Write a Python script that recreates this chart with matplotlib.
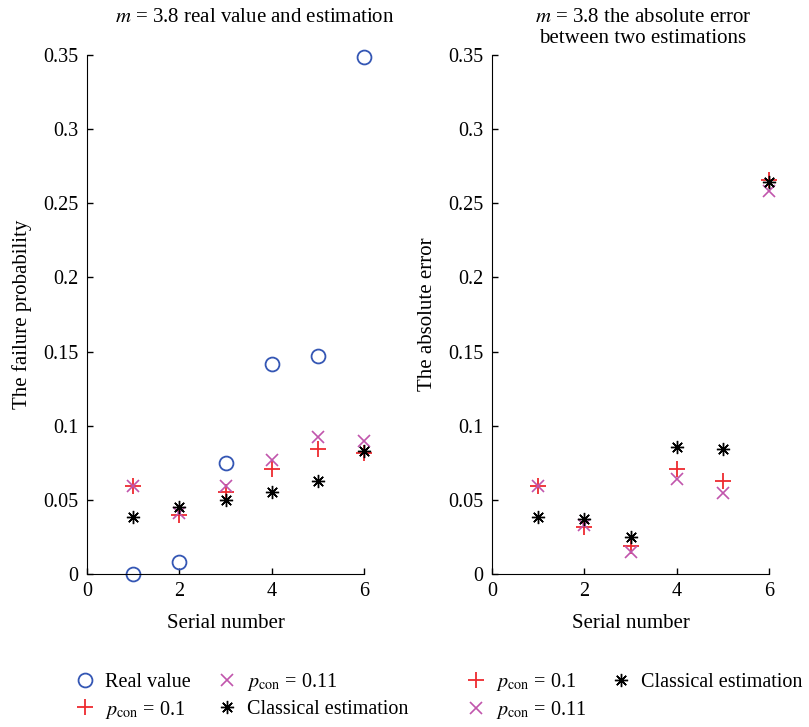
import matplotlib
matplotlib.use("Agg")
import matplotlib.pyplot as plt

plt.rcParams['font.family'] = ['Liberation Serif', 'DejaVu Serif']
plt.rcParams['mathtext.fontset'] = 'stix'

serial = [1, 2, 3, 4, 5, 6]
real_value = [0.0, 0.0079, 0.0748, 0.1416, 0.147, 0.3485]
est_p010 = [0.0596, 0.0398, 0.0555, 0.0706, 0.0843, 0.0818]
est_p011 = [0.0596, 0.0413, 0.0596, 0.0769, 0.0921, 0.0894]
est_classical = [0.0384, 0.0454, 0.0499, 0.0555, 0.0627, 0.0831]

err_p010 = [0.0594, 0.0314, 0.019, 0.0706, 0.0628, 0.2656]
err_p011 = [0.0594, 0.033, 0.015, 0.0643, 0.0545, 0.2584]
err_classical = [0.0386, 0.0374, 0.0247, 0.0857, 0.0841, 0.2645]

xticks = [0, 2, 4, 6]
yticks = [0, 0.05, 0.1, 0.15, 0.2, 0.25, 0.3, 0.35]
ytick_labels = ['0', '0.05', '0.1', '0.15', '0.2', '0.25', '0.3', '0.35']

c_blue = '#3456B4'
c_red = '#EE2A2F'
c_mag = '#C155AC'
c_black = '#000000'
ast = (8, 2, 0)

fig = plt.figure(figsize=(8.09, 7.27), dpi=100)
ax1 = fig.add_axes([87/809, 1-574/727, 277/809, 519/727])
ax2 = fig.add_axes([492/809, 1-574/727, 277/809, 519/727])

lbl_p010 = r'$p_{\mathrm{con}}$ = 0.1'
lbl_p011 = r'$p_{\mathrm{con}}$ = 0.11'

h_real, = ax1.plot(serial, real_value, ls='none', marker='o', ms=10, mfc='none', mec=c_blue, mew=1.3, label='Real value', clip_on=False)
h1_010, = ax1.plot(serial, est_p010, ls='none', marker='+', ms=11, mec=c_red, mew=1.3, label=lbl_p010, clip_on=False)
h1_011, = ax1.plot(serial, est_p011, ls='none', marker='x', ms=8.5, mec=c_mag, mew=1.2, label=lbl_p011, clip_on=False)
h1_cl, = ax1.plot(serial, est_classical, ls='none', marker=ast, ms=9.5, mec=c_black, mew=1.0, label='Classical estimation', clip_on=False)

h2_010, = ax2.plot(serial, err_p010, ls='none', marker='+', ms=11, mec=c_red, mew=1.3, label=lbl_p010, clip_on=False)
h2_011, = ax2.plot(serial, err_p011, ls='none', marker='x', ms=8.5, mec=c_mag, mew=1.2, label=lbl_p011, clip_on=False)
h2_cl, = ax2.plot(serial, err_classical, ls='none', marker=ast, ms=9.5, mec=c_black, mew=1.0, label='Classical estimation', clip_on=False)

for ax, ylab in [(ax1, 'The failure probability'), (ax2, 'The absolute error')]:
    ax.set_xlim(0, 6)
    ax.set_ylim(0, 0.35)
    ax.set_xticks(xticks)
    ax.set_yticks(yticks)
    ax.set_yticklabels(ytick_labels)
    ax.spines['top'].set_visible(False)
    ax.spines['right'].set_visible(False)
    ax.tick_params(direction='in', length=4, width=1, labelsize=14.5, pad=6)
    ax.set_xlabel('Serial number', fontsize=15, labelpad=9)
    ax.set_ylabel(ylab, fontsize=15, labelpad=8)

fig.text(255/809, 1-17/727, r'$m$ = 3.8 real value and estimation', ha='center', va='center', fontsize=15)
fig.text(643/809, 1-28/727, '$m$ = 3.8 the absolute error\nbetween two estimations', ha='center', va='center', fontsize=15, linespacing=1.15)

leg1 = fig.legend(handles=[h_real, h1_010, h1_011, h1_cl], ncol=2, frameon=False,
                  loc='center left', bbox_to_anchor=(57/809, 1-696/727), fontsize=14.5,
                  handlelength=1.0, handletextpad=0.5, columnspacing=1.3, labelspacing=0.3)
leg2 = fig.legend(handles=[h2_010, h2_011, h2_cl], ncol=2, frameon=False,
                  loc='center left', bbox_to_anchor=(448/809, 1-696/727), fontsize=14.5,
                  handlelength=1.0, handletextpad=0.5, columnspacing=1.2, labelspacing=0.3)

fig.savefig('out.png', dpi=100)
